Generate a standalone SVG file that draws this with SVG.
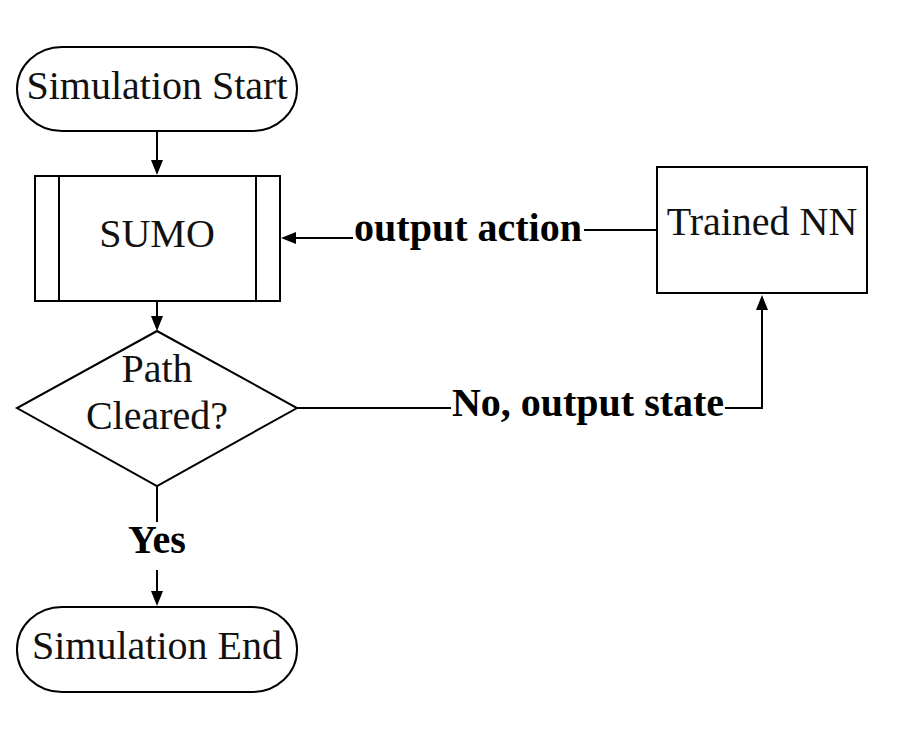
<svg xmlns="http://www.w3.org/2000/svg" width="906" height="733" viewBox="0 0 906 733">
<defs>
<style>
.shape{fill:#fff;stroke:#000;stroke-width:2}
.t{font-family:"Liberation Serif","Times New Roman",serif;font-size:40px;fill:#111;text-anchor:middle}
.b{font-family:"Liberation Serif","Times New Roman",serif;font-size:40px;font-weight:bold;fill:#000;text-anchor:middle}
.c{fill:none;stroke:#000;stroke-width:2}
.h{fill:#000}
</style>
</defs>
<rect width="906" height="733" fill="#fff"/>
<g id="connectors">
<path class="c" d="M157,131 L157,161"/>
<path class="h" d="M151,160 L157,175 L163,160 z"/>
<path class="c" d="M157,301 L157,317"/>
<path class="h" d="M151,316 L157,331 L163,316 z"/>
<path class="c" d="M657,230 L470,230 L470,238 L296,238"/>
<path class="h" d="M296,232 L281,238 L296,244 z"/>
<path class="c" d="M297,408 L762,408 L762,309"/>
<path class="h" d="M756,310 L762,295 L768,310 z"/>
<path class="c" d="M157,486 L157,522"/>
<path class="c" d="M157,570 L157,592"/>
<path class="h" d="M151,591 L157,606 L163,591 z"/>
<rect x="353" y="208" width="231" height="44" fill="#fff"/>
<rect x="451" y="384" width="274" height="44" fill="#fff"/>
<text class="b" x="468" y="241">output action</text>
<text class="b" x="588" y="416">No, output state</text>
<text class="b" x="157" y="553">Yes</text>
</g>
<g id="start">
<rect class="shape" x="17" y="47" width="280" height="84" rx="45" ry="42"/>
<text class="t" x="157" y="99">Simulation Start</text>
</g>
<g id="sumo">
<rect class="shape" x="35" y="176" width="245" height="125"/>
<line class="c" x1="59" y1="176" x2="59" y2="301"/>
<line class="c" x1="256" y1="176" x2="256" y2="301"/>
<text class="t" x="157" y="247">SUMO</text>
</g>
<g id="decision">
<polygon class="shape" points="157,331 297,408 157,486 17,408"/>
<text class="t" x="157" y="382">Path</text>
<text class="t" x="157" y="429">Cleared?</text>
</g>
<g id="nn">
<rect class="shape" x="657" y="167" width="210" height="126"/>
<text class="t" x="762" y="235">Trained NN</text>
</g>
<g id="end">
<rect class="shape" x="17" y="607" width="280" height="85" rx="45" ry="42"/>
<text class="t" x="157" y="659">Simulation End</text>
</g>
</svg>
